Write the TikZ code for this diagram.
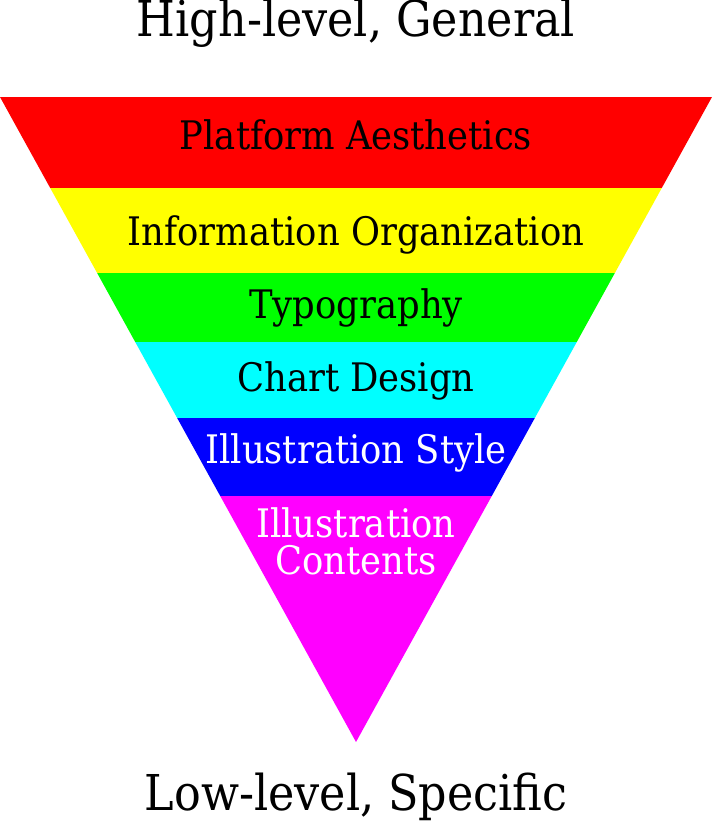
\documentclass[tikz,border=0pt]{standalone}
\usepackage{fontspec}
\setmainfont{DejaVu Serif Condensed}
\definecolor{bred}{RGB}{255,0,0}
\definecolor{byellow}{RGB}{255,255,0}
\definecolor{bgreen}{RGB}{0,255,0}
\definecolor{bcyan}{RGB}{0,255,255}
\definecolor{bblue}{RGB}{0,0,255}
\definecolor{bmagenta}{RGB}{255,0,255}
\begin{document}
\begin{tikzpicture}[x=1pt,y=-1pt,
  bandtext/.style={anchor=base,inner sep=0pt,font=\fontsize{39.3}{41}\selectfont},
  titletext/.style={anchor=base,inner sep=0pt,font=\fontsize{49.4}{52}\selectfont}]
\useasboundingbox (0,0) rectangle (712,830);
\coordinate (tl) at (0,97);
\coordinate (tr) at (712,97);
\coordinate (apex) at (356,742);
\begin{scope}
\clip (tl) -- (tr) -- (apex) -- cycle;
\fill[bred] (0,97) rectangle (712,188);
\fill[byellow] (0,188) rectangle (712,273);
\fill[bgreen] (0,273) rectangle (712,342);
\fill[bcyan] (0,342) rectangle (712,418);
\fill[bblue] (0,418) rectangle (712,496);
\fill[bmagenta] (0,496) rectangle (712,742);
\end{scope}
\node[titletext] (top) at (356,36) {High-level, General};
\node[bandtext] (pa) at (356,149) {Platform Aesthetics};
\node[bandtext] (io) at (356,245) {Information Organization};
\node[bandtext] (ty) at (356,318) {Typography};
\node[bandtext] (cd) at (356,391) {Chart Design};
\node[bandtext,text=white] (is) at (356,463) {Illustration Style};
\node[bandtext,text=white] (ic1) at (356,537) {Illustration};
\node[bandtext,text=white] (ic2) at (356,574) {Contents};
\node[titletext] (bot) at (356,810) {Low-level, Specific};
\end{tikzpicture}
\end{document}
